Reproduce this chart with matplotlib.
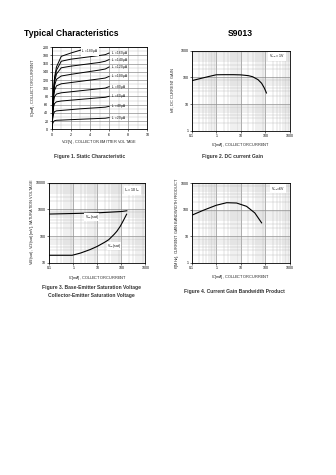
import matplotlib
matplotlib.use("Agg")
import matplotlib.pyplot as plt
from matplotlib.ticker import FixedLocator, NullFormatter

plt.rcParams['font.family'] = ['Liberation Sans', 'DejaVu Sans']

W, H = 336, 475

# Figure 1 - static characteristic
vce = [0, 0.1, 0.2, 0.3, 0.5, 1, 2, 3, 4, 5, 5.6, 6]
ib_labels = ['20', '40', '60', '80', '100', '120', '140', '160', '180']
ic_curves = [
    [0, 14, 19, 21, 22, 22.5, 23.5, 24.5, 25.5, 26.5, 27, 28.5],
    [0, 25, 38, 43, 45, 46, 48, 50, 51.5, 53, 54, 56],
    [0, 32, 55, 63, 67, 69, 71, 73, 75, 77, 78, 80.5],
    [0, 38, 68, 80, 86, 89, 91.5, 94, 96.5, 99, 100.5, 104],
    [0, 42, 78, 95, 106, 111, 114, 117, 120, 123, 125, 129],
    [0, 45, 85, 107, 122, 130, 134, 137.5, 141, 144.5, 147, 152],
    [0, 47, 90, 116, 135, 150, 154, 157, 160, 163, 166, 170],
    [0, 49, 94, 122, 144, 166, 171, 174, 177, 180, 182, 186],
    [0, 50, 97, 127, 152, 178, 186, 193, 200, 206, 210, 214],
]

# Figure 2 - DC current gain
ic_hfe = [0.1, 0.2, 0.5, 1, 2, 5, 10, 20, 30, 50, 70, 90, 110]
hfe = [75, 88, 108, 125, 126, 126, 124, 116, 106, 82, 60, 40, 26]

# Figure 3 - saturation voltages
ic_vbe = [0.1, 1, 10, 100, 170]
vbe_sat = [668, 700, 740, 830, 885]
ic_vce = [0.1, 0.9, 2, 5, 10, 20, 30, 50, 65, 90, 120, 167]
vce_sat = [19, 19, 23, 31, 41, 58, 73, 115, 150, 230, 370, 660]

# Figure 4 - current gain bandwidth product
ic_ft = [0.1, 0.3, 1, 2.65, 6.7, 17, 37, 70]
ft = [62, 96, 148, 185, 180, 135, 76, 32]

log_ticks = [0.1, 1, 10, 100, 1000]
log_labels = ['0.1', '1', '10', '100', '1000']

fig = plt.figure(figsize=(W / 100, H / 100), dpi=100)
fig.patch.set_facecolor('white')


def axes_px(left, top, right, bottom):
    return fig.add_axes([left / W, 1 - bottom / H, (right - left) / W, (bottom - top) / H])


def text_px(x, y, s, **kw):
    fig.text(x / W, 1 - y / H, s, **kw)


def style(ax):
    for sp in ax.spines.values():
        sp.set_linewidth(0.6)
    ax.tick_params(which='both', labelsize=2.6, length=1.2, width=0.4, pad=1.2)
    ax.tick_params(which='minor', length=0)
    ax.grid(which='major', color='#808080', lw=0.45)
    ax.grid(which='minor', color='#b8b8b8', lw=0.3)
    ax.set_axisbelow(True)


def log_x(ax):
    ax.set_xscale('log')
    ax.set_xlim(0.1, 1000)
    ax.set_xticks(log_ticks)
    ax.set_xticklabels(log_labels)
    ax.xaxis.set_minor_formatter(NullFormatter())


cap = dict(fontsize=3.6, fontweight='bold', color='#333333', ha='center', va='center')
axl = dict(fontsize=2.8, color='#222222', ha='center', va='center')
tag = dict(facecolor='white', edgecolor='none', pad=0.2)

text_px(24, 33, 'Typical Characteristics', fontsize=6.2, fontweight='bold', va='center')
text_px(240, 33, 'S9013', fontsize=6.2, fontweight='bold', ha='center', va='center')

# Figure 1
ax1 = axes_px(51.7, 47.3, 147.3, 129.3)
for ic in ic_curves:
    ax1.plot(vce, ic, color='black', lw=0.7)
ax1.set_xlim(0, 10)
ax1.set_ylim(0, 200)
ax1.set_xticks(range(0, 11, 2))
ax1.set_yticks(range(0, 201, 20))
ax1.xaxis.set_minor_locator(FixedLocator(range(0, 11)))
ax1.yaxis.set_minor_locator(FixedLocator(range(0, 201, 10)))
style(ax1)
for ib, ic in zip(ib_labels[:-1], ic_curves[:-1]):
    ax1.text(6.25, ic[-1], 'I$_B$ = ' + ib + ' \u00b5A', fontsize=2.2, va='center')
ax1.text(3.1, 190, 'I$_B$ = ' + ib_labels[-1] + ' \u00b5A', fontsize=2.2, va='center', bbox=tag)
text_px(33, 88, 'I$_C$[mA], COLLECTOR CURRENT', rotation=90, **axl)
text_px(99, 141.5, 'V$_{CE}$[V], COLLECTOR-EMITTER VOLTAGE', **axl)
text_px(90, 156.5, 'Figure 1. Static Characteristic', **cap)

# Figure 2
ax2 = axes_px(191.7, 50.7, 290, 130.7)
ax2.plot(ic_hfe, hfe, color='black', lw=0.8)
log_x(ax2)
ax2.set_yscale('log')
ax2.set_ylim(1, 1000)
ax2.set_yticks([1, 10, 100, 1000])
ax2.set_yticklabels(['1', '10', '100', '1000'])
ax2.yaxis.set_minor_formatter(NullFormatter())
style(ax2)
ax2.text(0.95, 0.93, 'V$_{CE}$ = 1V', transform=ax2.transAxes, fontsize=2.5, ha='right', va='center',
         bbox=dict(facecolor='white', edgecolor='none', pad=0.6))
text_px(173, 90, 'h$_{FE}$, DC CURRENT GAIN', rotation=90, **axl)
text_px(240.5, 145, 'I$_C$[mA], COLLECTOR CURRENT', **axl)
text_px(233, 156.5, 'Figure 2. DC current Gain', **cap)

# Figure 3
ax3 = axes_px(49.3, 182.7, 145.3, 262.7)
ax3.plot(ic_vbe, vbe_sat, color='black', lw=0.8)
ax3.plot(ic_vce, vce_sat, color='black', lw=0.8)
log_x(ax3)
ax3.set_yscale('log')
ax3.set_ylim(10, 10000)
ax3.set_yticks([10, 100, 1000, 10000])
ax3.set_yticklabels(['10', '100', '1000', '10000'])
ax3.yaxis.set_minor_formatter(NullFormatter())
style(ax3)
ax3.text(0.95, 0.9, 'I$_C$ = 10 I$_B$', transform=ax3.transAxes, fontsize=2.5, ha='right', va='center',
         bbox=dict(facecolor='white', edgecolor='none', pad=0.6))
ax3.text(3, 520, 'V$_{BE}$(sat)', fontsize=2.4, va='center', bbox=tag)
ax3.text(25, 42, 'V$_{CE}$(sat)', fontsize=2.4, va='center', bbox=tag)
text_px(31.5, 222, 'V$_{BE}$(sat), V$_{CE}$(sat)[mV], SATURATION VOLTAGE', rotation=90, **axl)
text_px(97, 277.5, 'I$_C$[mA], COLLECTOR CURRENT', **axl)
text_px(91, 288, 'Figure 3. Base-Emitter Saturation Voltage', **cap)
text_px(91, 296, 'Collector-Emitter Saturation Voltage', **cap)

# Figure 4
ax4 = axes_px(191.7, 183.3, 290, 262.7)
ax4.plot(ic_ft, ft, color='black', lw=0.8)
log_x(ax4)
ax4.set_yscale('log')
ax4.set_ylim(1, 1000)
ax4.set_yticks([1, 10, 100, 1000])
ax4.set_yticklabels(['1', '10', '100', '1000'])
ax4.yaxis.set_minor_formatter(NullFormatter())
style(ax4)
ax4.text(0.95, 0.93, 'V$_{CE}$=6V', transform=ax4.transAxes, fontsize=2.5, ha='right', va='center',
         bbox=dict(facecolor='white', edgecolor='none', pad=0.6))
text_px(177, 223, 'f$_T$[MHz], CURRENT GAIN BANDWIDTH PRODUCT', rotation=90, **axl)
text_px(240.8, 277, 'I$_C$[mA], COLLECTOR CURRENT', **axl)
text_px(234, 291.7, 'Figure 4. Current Gain Bandwidth Product', **cap)

fig.savefig('out.png', dpi=100, facecolor='white')
